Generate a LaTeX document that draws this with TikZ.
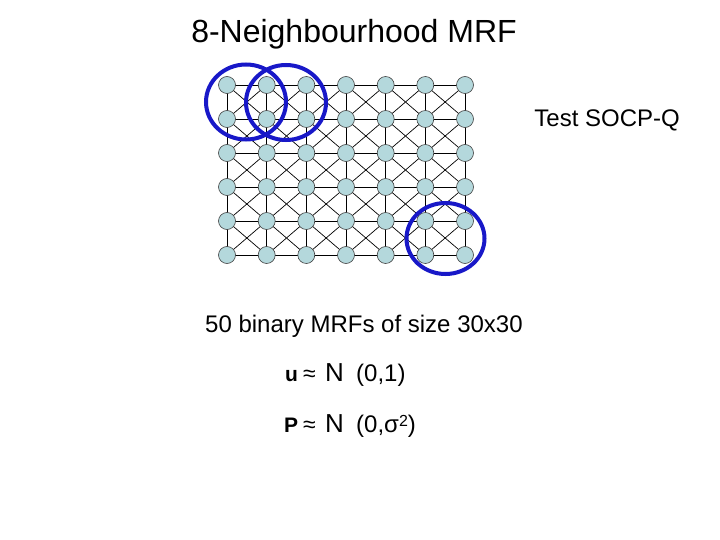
\documentclass[tikz,border=0pt]{standalone}
\usepackage{fontspec}
\setmainfont{Liberation Sans}
\definecolor{nodefill}{RGB}{180,216,220}
\definecolor{ringblue}{RGB}{24,24,200}
\begin{document}
\begin{tikzpicture}[x=1pt,y=-1pt,
  site/.style={circle,draw=black!75,fill=nodefill,line width=0.6pt,minimum size=17pt,inner sep=0pt},
  edge/.style={black,line width=0.7pt},
  ring/.style={draw=ringblue,line width=4pt},
  txt/.style={inner sep=0pt,font=\fontsize{24}{28}\selectfont},
  sym/.style={inner sep=0pt,anchor=base west,font=\fontsize{23}{26}\selectfont},
  bigN/.style={inner sep=0pt,anchor=base west,font=\fontsize{26}{28}\selectfont}]
\useasboundingbox (0,0) rectangle (720,540);
% grid
\foreach \c [count=\i] in {227,266.7,306.3,346,385.7,425.3,465}{
  \foreach \r [count=\j] in {85,119,153,187,221,255}{
    \coordinate (p-\i-\j) at (\c,\r);
  }
}
\foreach \i in {1,...,7}{
  \foreach \j in {1,...,6}{
    \ifnum\i<7
      \pgfmathtruncatemacro{\ni}{\i+1}
      \draw[edge] (p-\i-\j) -- (p-\ni-\j);
    \fi
    \ifnum\j<6
      \pgfmathtruncatemacro{\nj}{\j+1}
      \draw[edge] (p-\i-\j) -- (p-\i-\nj);
    \fi
    \ifnum\i<7 \ifnum\j<6
      \pgfmathtruncatemacro{\ni}{\i+1}
      \pgfmathtruncatemacro{\nj}{\j+1}
      \draw[edge] (p-\i-\j) -- (p-\ni-\nj);
      \draw[edge] (p-\ni-\j) -- (p-\i-\nj);
    \fi\fi
  }
}
\foreach \i in {1,...,7}{
  \foreach \j in {1,...,6}{
    \node[site] (n-\i-\j) at (p-\i-\j) {};
  }
}
% rings
\draw[ring] (246,102) ellipse [x radius=40,y radius=37.5];
\draw[ring] (286,102.5) ellipse [x radius=40,y radius=37.5];
\draw[ring] (445.5,238.5) ellipse [x radius=39,y radius=35.5];
% texts
\node[inner sep=0pt,anchor=base,font=\fontsize{32}{36}\selectfont] (title) at (354,43) {8-Neighbourhood MRF};
\node[txt,anchor=base east] (test) at (680,127) {Test SOCP-Q};
\node[txt,anchor=base west] (size) at (205,332) {50 binary MRFs of size 30x30};
\node[sym,font=\fontsize{21}{24}\selectfont\bfseries] (u) at (285,381) {u};
\node[sym] (ap1) at (303,381) {≈};
\node[bigN] (N1) at (325,381) {N};
\node[txt,anchor=base west] (d1) at (356,381) {(0,1)};
\node[sym,font=\fontsize{21}{24}\selectfont\bfseries] (P) at (284,432) {P};
\node[sym] (ap2) at (303,432) {≈};
\node[bigN] (N2) at (325,432) {N};
\node[txt,anchor=base west] (d2) at (356,432) {(0,σ\raisebox{6pt}{\fontsize{16}{16}\selectfont 2})};
\end{tikzpicture}
\end{document}
